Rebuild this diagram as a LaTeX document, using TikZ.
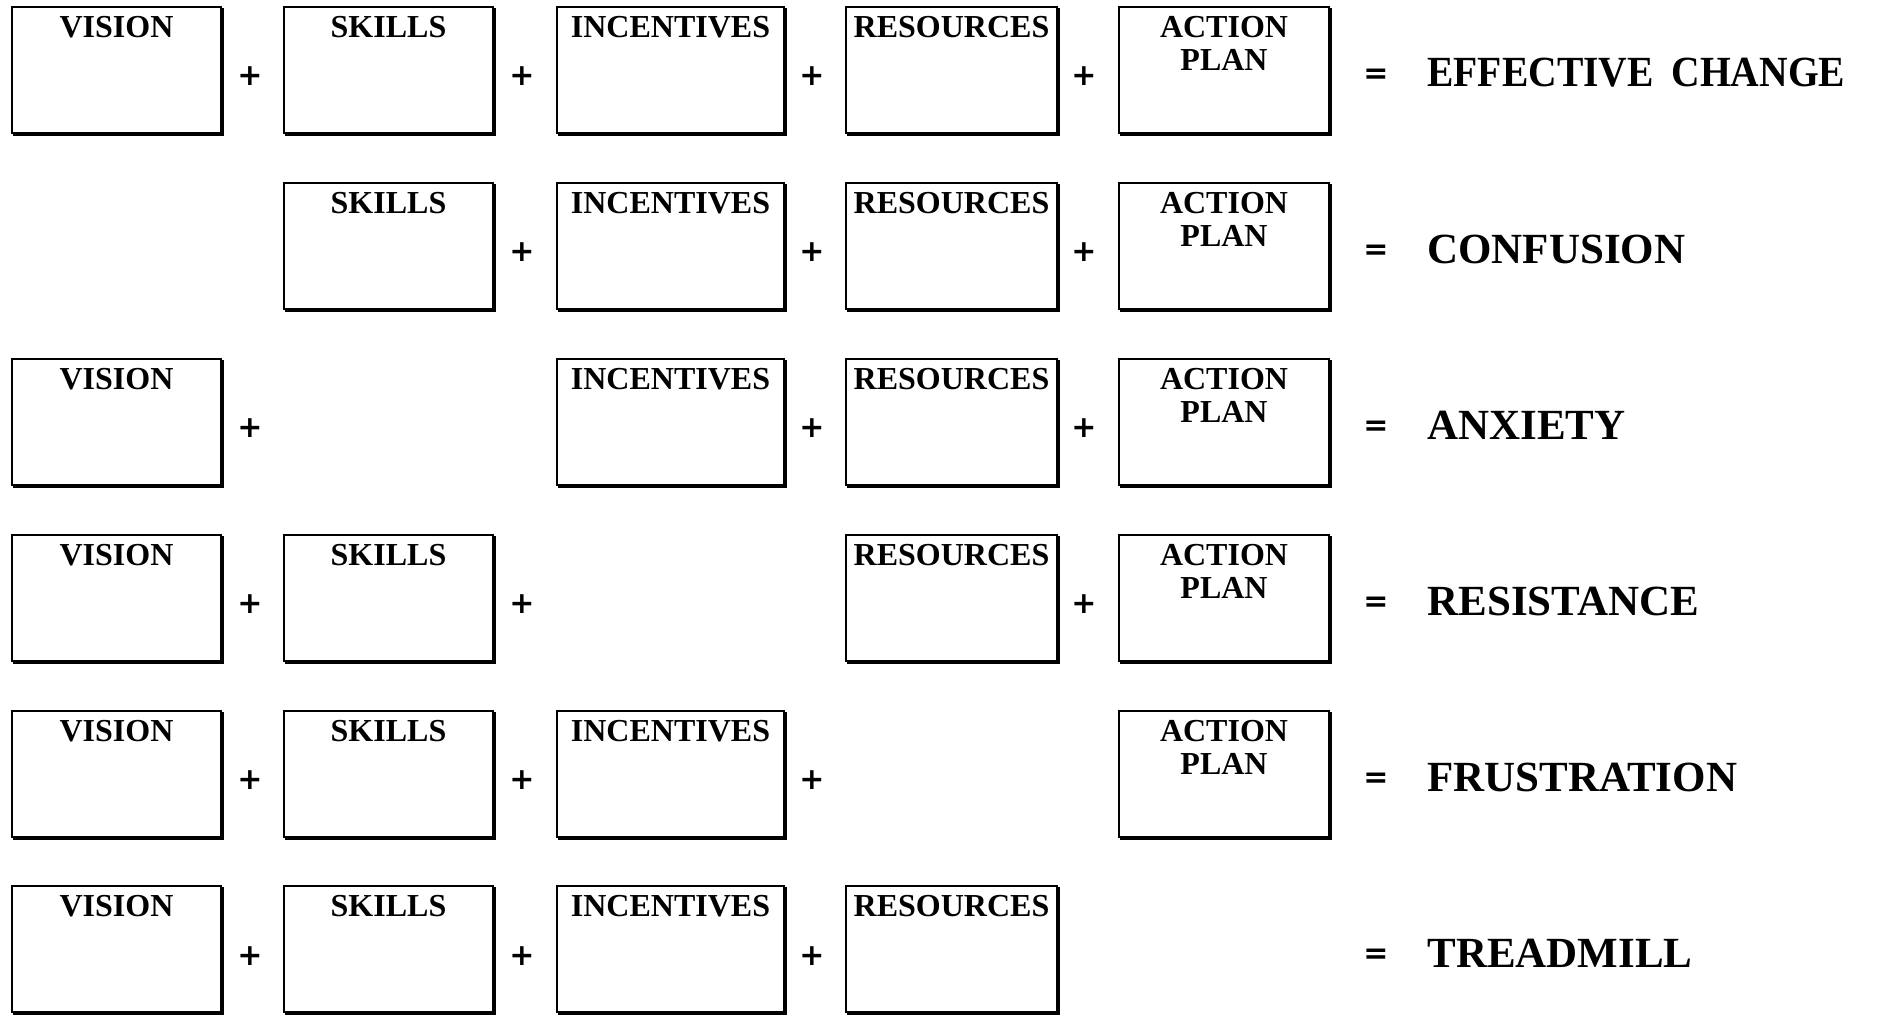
\documentclass[tikz,border=0pt]{standalone}
\usepackage{fontspec}
\setmainfont{Liberation Serif}
\newfontfamily\signfont{DejaVu Sans}
\newcommand\mybox[5]{%
  \node[chbox, minimum width=#4*0.5pt, label={[boxtext]90:{#5}}] (#1) at (#2,#3) {};
  \draw[shadowline] ([xshift=0.9pt,yshift=-1.2pt]#1.north east) -- ([xshift=0.9pt,yshift=-0.9pt]#1.south east) -- ([xshift=1.2pt,yshift=-0.9pt]#1.south west);
}
\newcommand\myplus[3]{\node[plussign] (#1) at (#2,#3) {+};}
\begin{document}
\begin{tikzpicture}[x=0.5pt,y=-0.5pt]
\tikzset{
  chbox/.style={draw, line width=1.2pt, anchor=north west, minimum height=63pt, inner sep=0pt, outer sep=0pt},
  shadowline/.style={line width=1.1pt, line cap=rect},
  boxtext/.style={anchor=north, yshift=-4.3pt, inner sep=0pt, align=center, font=\fontsize{16}{16.8}\selectfont\bfseries},
  plussign/.style={inner sep=0pt, font=\signfont\fontsize{15}{15}\selectfont\bfseries},
  eqsign/.style={inner sep=0pt, font=\signfont\fontsize{15}{15}\selectfont\bfseries},
  result/.style={anchor=west, inner sep=0pt, font=\fontsize{21.5}{22}\selectfont\bfseries},
}
\useasboundingbox (0,0) rectangle (1877,1015);
% columns: V 12 w209; S 284 w209; I 557 w227; R 846 w211; A 1119 w210
% row 1
\mybox{v1}{12}{7}{209}{VISION}
\mybox{s1}{284}{7}{209}{SKILLS}
\mybox{i1}{557}{7}{227}{INCENTIVES}
\mybox{r1}{846}{7}{211}{RESOURCES}
\mybox{a1}{1119}{7}{210}{ACTION\\PLAN}
\myplus{p11}{250}{76}
\myplus{p12}{522}{76}
\myplus{p13}{812}{76}
\myplus{p14}{1084}{76}
\node[eqsign] (e1) at (1376,76) {=};
\node[result, xscale=0.92] (t1) at (1427,73) {EFFECTIVE\hspace{0.45em}CHANGE};
% row 2
\mybox{s2}{284}{183}{209}{SKILLS}
\mybox{i2}{557}{183}{227}{INCENTIVES}
\mybox{r2}{846}{183}{211}{RESOURCES}
\mybox{a2}{1119}{183}{210}{ACTION\\PLAN}
\myplus{p22}{522}{252}
\myplus{p23}{812}{252}
\myplus{p24}{1084}{252}
\node[eqsign] (e2) at (1376,252) {=};
\node[result] (t2) at (1427,249) {CONFUSION};
% row 3
\mybox{v3}{12}{359}{209}{VISION}
\mybox{i3}{557}{359}{227}{INCENTIVES}
\mybox{r3}{846}{359}{211}{RESOURCES}
\mybox{a3}{1119}{359}{210}{ACTION\\PLAN}
\myplus{p31}{250}{428}
\myplus{p33}{812}{428}
\myplus{p34}{1084}{428}
\node[eqsign] (e3) at (1376,428) {=};
\node[result] (t3) at (1427,425) {ANXIETY};
% row 4
\mybox{v4}{12}{535}{209}{VISION}
\mybox{s4}{284}{535}{209}{SKILLS}
\mybox{r4}{846}{535}{211}{RESOURCES}
\mybox{a4}{1119}{535}{210}{ACTION\\PLAN}
\myplus{p41}{250}{604}
\myplus{p42}{522}{604}
\myplus{p44}{1084}{604}
\node[eqsign] (e4) at (1376,604) {=};
\node[result] (t4) at (1427,601) {RESISTANCE};
% row 5
\mybox{v5}{12}{711}{209}{VISION}
\mybox{s5}{284}{711}{209}{SKILLS}
\mybox{i5}{557}{711}{227}{INCENTIVES}
\mybox{a5}{1119}{711}{210}{ACTION\\PLAN}
\myplus{p51}{250}{780}
\myplus{p52}{522}{780}
\myplus{p53}{812}{780}
\node[eqsign] (e5) at (1376,780) {=};
\node[result] (t5) at (1427,777) {FRUSTRATION};
% row 6
\mybox{v6}{12}{886}{209}{VISION}
\mybox{s6}{284}{886}{209}{SKILLS}
\mybox{i6}{557}{886}{227}{INCENTIVES}
\mybox{r6}{846}{886}{211}{RESOURCES}
\myplus{p61}{250}{956}
\myplus{p62}{522}{956}
\myplus{p63}{812}{956}
\node[eqsign] (e6) at (1376,956) {=};
\node[result] (t6) at (1427,953) {TREADMILL};
\end{tikzpicture}
\end{document}
